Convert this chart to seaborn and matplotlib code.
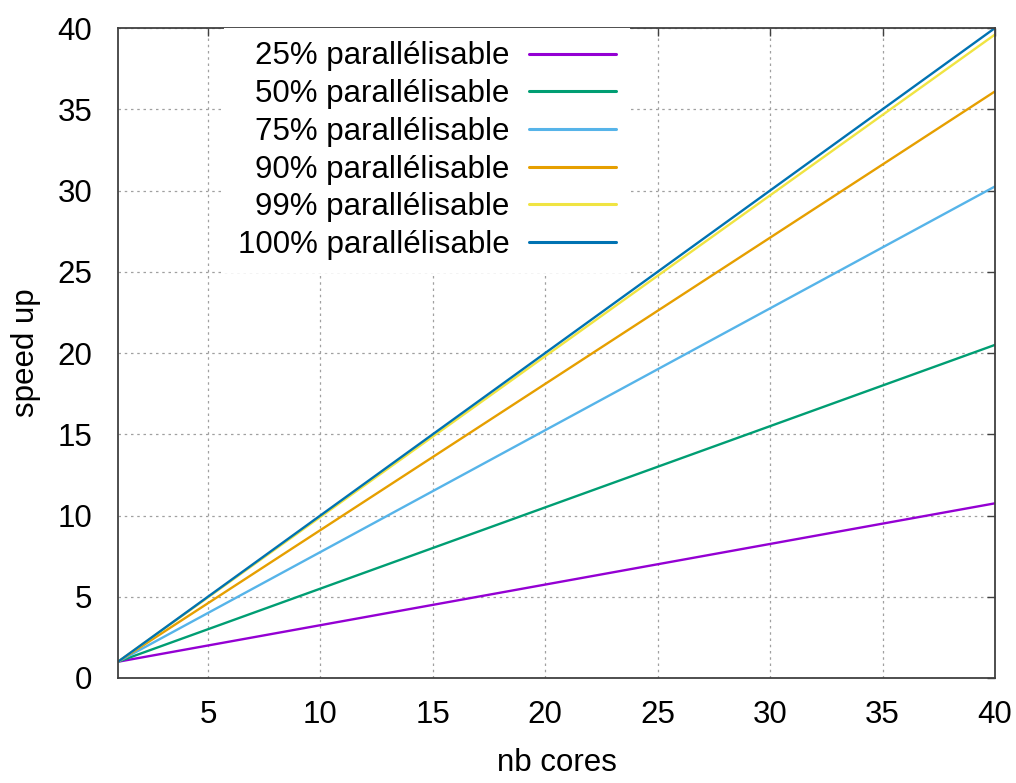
import matplotlib
matplotlib.use("Agg")
import matplotlib.pyplot as plt
import seaborn as sns

# speed up read at nb cores = 1 and nb cores = 40
cores = [1, 40]
labels = ["25% parallélisable", "50% parallélisable", "75% parallélisable",
          "90% parallélisable", "99% parallélisable", "100% parallélisable"]
speedup = [
    [1.0, 10.75],
    [1.0, 20.5],
    [1.0, 30.25],
    [1.0, 36.1],
    [1.0, 39.6],
    [1.0, 40.0],
]
colors = ["#9400d3", "#009e73", "#56b4e9", "#e69f00", "#f0e442", "#0072b2"]
xticks = [5, 10, 15, 20, 25, 30, 35, 40]
yticks = [0, 5, 10, 15, 20, 25, 30, 35, 40]

sns.set_style("white")
plt.rcParams["font.family"] = ["Liberation Sans", "DejaVu Sans"]
plt.rcParams["text.color"] = "black"
plt.rcParams["axes.labelcolor"] = "black"

fs = 22.5

fig = plt.figure(figsize=(10.16, 7.83), dpi=100)
ax = fig.add_axes([0.1161, 0.1341, 0.8632, 0.8301])

for lab, ys, col in zip(labels, speedup, colors):
    sns.lineplot(x=cores, y=ys, color=col, label=lab, linewidth=1.7, ax=ax)

ax.set_xlim(1, 40)
ax.set_ylim(0, 40)
ax.set_xticks(xticks)
ax.set_yticks(yticks)
ax.grid(True, color="#a0a0a0", linestyle=(0, (2, 3)), linewidth=0.9)
ax.set_axisbelow(True)

for sp in ax.spines.values():
    sp.set_visible(True)
    sp.set_color("#404040")
    sp.set_linewidth(1.3)

ax.tick_params(direction="in", top=True, right=True, length=6, width=1,
               color="#404040", labelsize=fs, labelcolor="black")
ax.tick_params(axis="x", pad=16)
ax.tick_params(axis="y", pad=18.5)

ax.set_xlabel("nb cores", fontsize=fs, labelpad=13)
ax.set_ylabel("speed up", fontsize=fs, labelpad=12)

leg = ax.legend(loc="upper right", bbox_to_anchor=(0.5836, 1.0),
                borderaxespad=0, borderpad=0.43, markerfirst=False,
                fontsize=fs, handlelength=2.78, handletextpad=0.64,
                labelspacing=0.246, frameon=True, framealpha=1,
                fancybox=False, edgecolor="none", facecolor="white")
for line in leg.get_lines():
    line.set_linewidth(2.2)

fig.savefig("out.png", dpi=100)
